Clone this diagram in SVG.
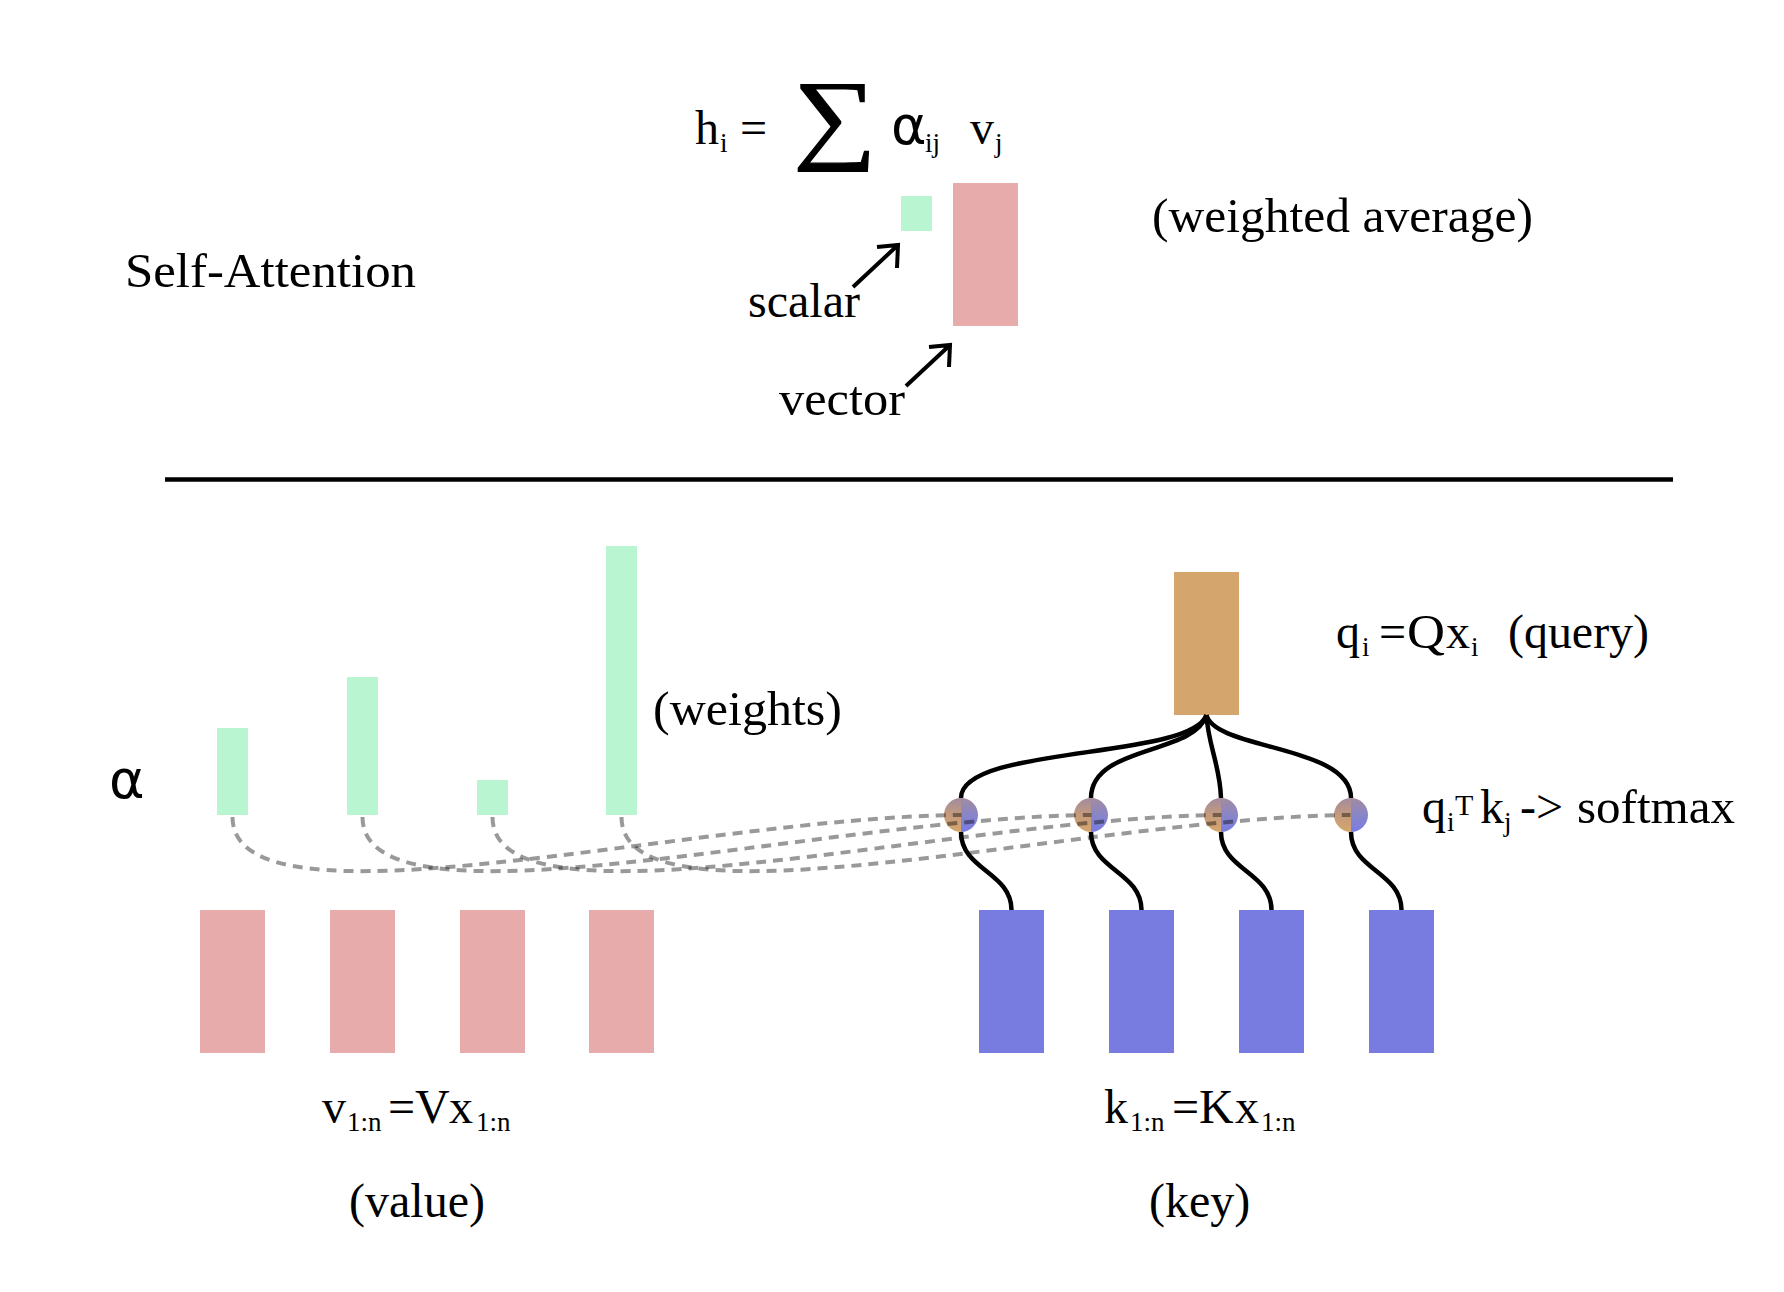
<svg xmlns="http://www.w3.org/2000/svg" width="1784" height="1292" viewBox="0 0 1784 1292">
<style>
  .t { font-family: "Liberation Serif", "Times New Roman", serif; font-size: 48px; fill: #000; }
  .s { font-family: "Liberation Serif", "Times New Roman", serif; font-size: 27px; fill: #000; }
  .a { font-family: "DejaVu Sans", "Liberation Sans", sans-serif; font-size: 54px; fill: #000; }
  .g { fill: #b8f5d0; }
  .p { fill: #e6abaa; }
  .b { fill: #787ce1; }
  .q { fill: #d4a56c; }
  .ln { fill: none; stroke: #000; stroke-width: 4.5; }
  .ar { fill: none; stroke: #000; stroke-width: 4; stroke-linecap: butt; stroke-linejoin: miter; }
  .dash { fill: none; stroke: #000; stroke-opacity: 0.4; stroke-width: 4; stroke-dasharray: 10 7; }
</style>
<defs>
  <linearGradient id="gl" x1="0" y1="0" x2="0" y2="1">
    <stop offset="0" stop-color="#a28b9e"/>
    <stop offset="0.5" stop-color="#c49b7c"/>
    <stop offset="1" stop-color="#d6a66b"/>
  </linearGradient>
  <linearGradient id="gr" x1="0" y1="0" x2="0" y2="1">
    <stop offset="0" stop-color="#a28b9e"/>
    <stop offset="0.5" stop-color="#8985c8"/>
    <stop offset="1" stop-color="#777ce4"/>
  </linearGradient>
</defs>
<rect x="0" y="0" width="1784" height="1292" fill="#fff"/>

<!-- Top: formula -->
<g id="formula">
  <text class="t" x="695" y="144">h</text>
  <text class="s" x="720" y="152">i</text>
  <text class="t" x="740" y="144">=</text>
  <text class="t" transform="translate(793,150) scale(1.17,1)" style="font-size:100px" stroke="#000" stroke-width="1.2">∑</text>
  <text class="a" x="891" y="144">α</text>
  <text class="s" x="925" y="152">ij</text>
  <text class="t" x="970" y="144">v</text>
  <text class="s" x="995" y="152">j</text>
</g>
<g id="title"><text class="t" x="125" y="287" textLength="291" lengthAdjust="spacingAndGlyphs">Self-Attention</text></g>
<g id="weighted-average"><text class="t" x="1152" y="232" textLength="381" lengthAdjust="spacingAndGlyphs">(weighted average)</text></g>
<g id="scalar-box"><rect class="g" x="901" y="196" width="31" height="35"/></g>
<g id="vector-box"><rect class="p" x="953" y="183" width="65" height="143"/></g>
<g id="scalar-label">
  <text class="t" x="748" y="317">scalar</text>
  <path class="ar" d="M853,287 L898,245 M877,247 L898,245 L897,268"/>
</g>
<g id="vector-label">
  <text class="t" x="779" y="415" textLength="126" lengthAdjust="spacingAndGlyphs">vector</text>
  <path class="ar" d="M906,386 L950,345 M929,347 L950,345 L949,367"/>
</g>

<!-- divider -->
<g id="divider"><line x1="165" y1="479.5" x2="1673" y2="479.5" stroke="#000" stroke-width="4.5"/></g>

<!-- Bottom -->
<g id="alpha-label"><text class="a" x="109" y="798">α</text></g>
<g id="weights">
  <rect class="g" x="217" y="728" width="31" height="87"/>
  <rect class="g" x="347" y="677" width="31" height="138"/>
  <rect class="g" x="477" y="780" width="31" height="35"/>
  <rect class="g" x="606" y="546" width="31" height="269"/>
  <text class="t" x="653" y="725" textLength="189" lengthAdjust="spacingAndGlyphs">(weights)</text>
</g>
<g id="values">
  <rect class="p" x="200" y="910" width="65" height="143"/>
  <rect class="p" x="330" y="910" width="65" height="143"/>
  <rect class="p" x="460" y="910" width="65" height="143"/>
  <rect class="p" x="589" y="910" width="65" height="143"/>
</g>
<g id="value-label">
  <text class="t" x="322" y="1123">v</text>
  <text class="s" x="347" y="1131">1:n</text>
  <text class="t" x="388" y="1123">=</text>
  <text class="t" x="415" y="1123">V</text>
  <text class="t" x="449" y="1123">x</text>
  <text class="s" x="476" y="1131">1:n</text>
  <text class="t" x="349" y="1217">(value)</text>
</g>
<g id="keys">
  <rect class="b" x="979" y="910" width="65" height="143"/>
  <rect class="b" x="1109" y="910" width="65" height="143"/>
  <rect class="b" x="1239" y="910" width="65" height="143"/>
  <rect class="b" x="1369" y="910" width="65" height="143"/>
</g>
<g id="key-label">
  <text class="t" x="1104" y="1123">k</text>
  <text class="s" x="1130" y="1131">1:n</text>
  <text class="t" x="1172" y="1123">=</text>
  <text class="t" x="1199" y="1123">K</text>
  <text class="t" x="1235" y="1123">x</text>
  <text class="s" x="1261" y="1131">1:n</text>
  <text class="t" x="1149" y="1217">(key)</text>
</g>
<g id="query">
  <rect class="q" x="1174" y="572" width="65" height="143"/>
  <text class="t" x="1336" y="648">q</text>
  <text class="s" x="1362" y="656">i</text>
  <text class="t" x="1379" y="648">=</text>
  <text class="t" x="1407" y="648" textLength="38" lengthAdjust="spacingAndGlyphs">Q</text>
  <text class="t" x="1446" y="648">x</text>
  <text class="s" x="1471" y="656">i</text>
  <text class="t" x="1508" y="648" textLength="141" lengthAdjust="spacingAndGlyphs">(query)</text>
</g>

<g id="connectors">
  <path class="ln" d="M1206.5,715 C1190,760 961,745 961,798"/>
  <path class="ln" d="M1206.5,715 C1195,755 1091,745 1091,798"/>
  <path class="ln" d="M1206.5,715 C1208,745 1220,765 1221,798"/>
  <path class="ln" d="M1206.5,715 C1215,750 1351,745 1351,798"/>
  <path class="ln" d="M961,832 C961,870 1011.5,872 1011.5,910"/>
  <path class="ln" d="M1091,832 C1091,870 1141.5,872 1141.5,910"/>
  <path class="ln" d="M1221,832 C1221,870 1271.5,872 1271.5,910"/>
  <path class="ln" d="M1351,832 C1351,870 1401.5,872 1401.5,910"/>
</g>

<g id="scores">
  <g id="score1">
    <path d="M961,798 A17,17 0 0 0 961,832 Z" fill="url(#gl)"/>
    <path d="M961,798 A17,17 0 0 1 961,832 Z" fill="url(#gr)"/>
  </g>
  <g id="score2">
    <path d="M1091,798 A17,17 0 0 0 1091,832 Z" fill="url(#gl)"/>
    <path d="M1091,798 A17,17 0 0 1 1091,832 Z" fill="url(#gr)"/>
  </g>
  <g id="score3">
    <path d="M1221,798 A17,17 0 0 0 1221,832 Z" fill="url(#gl)"/>
    <path d="M1221,798 A17,17 0 0 1 1221,832 Z" fill="url(#gr)"/>
  </g>
  <g id="score4">
    <path d="M1351,798 A17,17 0 0 0 1351,832 Z" fill="url(#gl)"/>
    <path d="M1351,798 A17,17 0 0 1 1351,832 Z" fill="url(#gr)"/>
  </g>
</g>

<g id="softmax-label">
  <text class="t" x="1422" y="823">q</text>
  <text class="s" x="1447" y="831">i</text>
  <text class="s" x="1455" y="815" style="font-size:30px">T</text>
  <text class="t" x="1480" y="823">k</text>
  <text class="s" x="1504" y="831">j</text>
  <text class="t" x="1520" y="823">-&gt;</text>
  <text class="t" x="1577" y="823" textLength="158" lengthAdjust="spacingAndGlyphs">softmax</text>
</g>

<g id="weight-connectors">
  <path class="dash" d="M232.5,817 c0,122 463,0 729,-2"/>
  <path class="dash" d="M362.5,817 c0,122 463,0 729,-2"/>
  <path class="dash" d="M492.5,817 c0,122 463,0 729,-2"/>
  <path class="dash" d="M621.5,817 c0,122 463,0 729,-2"/>
</g>
</svg>
